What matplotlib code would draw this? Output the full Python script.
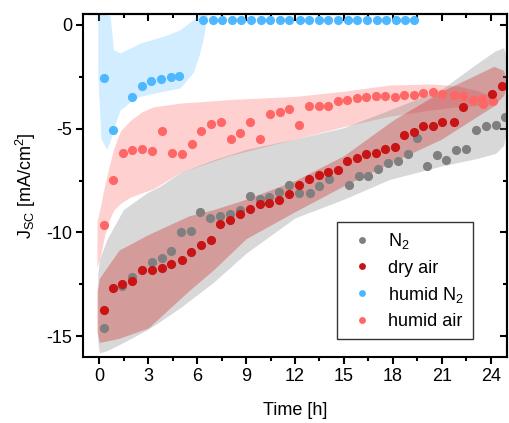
import numpy as np
import matplotlib
matplotlib.use("Agg")
import matplotlib.pyplot as plt
from matplotlib.ticker import MultipleLocator

plt.rcParams['font.family'] = ['Liberation Sans', 'DejaVu Sans']
plt.rcParams['axes.unicode_minus'] = False
plt.rcParams['mathtext.fontset'] = 'custom'
plt.rcParams['mathtext.rm'] = 'Liberation Sans'
plt.rcParams['mathtext.it'] = 'Liberation Sans'

# ---- measured points (time in h, Jsc in mA/cm2) ----
t_n2 = [0.25, 1.41, 2.02, 3.2, 3.81, 4.4, 5.0, 5.63, 6.2, 6.8, 7.41, 8.01, 8.61,
        9.23, 9.83, 10.42, 11.02, 11.63, 12.27, 12.89, 13.48, 14.08, 15.29, 15.9,
        16.5, 17.1, 17.71, 18.3, 18.9, 19.5, 20.08, 20.7, 21.28, 21.9, 22.51,
        23.1, 23.69, 24.3, 24.87]
j_n2 = [-14.6, -12.59, -12.16, -11.44, -11.23, -10.88, -9.99, -9.95, -9.0, -9.3,
        -9.19, -9.1, -8.92, -8.26, -8.4, -8.31, -8.04, -7.7, -8.08, -8.08, -7.78,
        -7.44, -7.7, -7.26, -7.26, -6.96, -6.66, -6.55, -6.24, -5.47, -6.8, -6.28,
        -6.5, -6.05, -5.98, -5.09, -4.88, -4.85, -4.46]

t_dry = [0.25, 0.82, 1.41, 2.02, 2.61, 3.2, 3.81, 4.4, 5.04, 5.63, 6.22, 6.83,
         7.41, 8.01, 8.61, 9.23, 9.83, 10.42, 11.02, 11.6, 12.25, 12.84, 13.45,
         14.02, 14.62, 15.19, 15.78, 16.35, 16.96, 17.54, 18.13, 18.7, 19.27,
         19.87, 20.47, 21.04, 21.73, 22.32, 24.1, 24.69]
j_dry = [-13.72, -12.67, -12.48, -12.32, -11.82, -11.8, -11.71, -11.5, -11.31,
         -10.92, -10.59, -10.35, -9.61, -9.42, -9.1, -8.86, -8.62, -8.58, -8.44,
         -8.16, -7.7, -7.44, -7.22, -7.08, -6.98, -6.55, -6.4, -6.21, -6.18, -5.97,
         -5.87, -5.33, -5.18, -4.86, -4.86, -4.68, -4.7, -3.96, -3.34, -2.94]

t_hn2 = [0.25, 0.82, 2.0, 2.59, 3.16, 3.77, 4.39, 4.9,
         6.36, 6.97, 7.55, 8.12, 8.71, 9.3, 9.89, 10.48, 11.07, 11.66, 12.28,
         12.85, 13.46, 14.05, 14.62, 15.23, 15.8, 16.42, 17.0, 17.58, 18.19,
         18.76, 19.31]
j_hn2 = [-2.57, -5.05, -3.5, -2.94, -2.7, -2.6, -2.53, -2.49,
         0.24, 0.25, 0.24, 0.24, 0.24, 0.24, 0.24, 0.24, 0.24, 0.24, 0.24,
         0.24, 0.24, 0.24, 0.24, 0.24, 0.24, 0.24, 0.24, 0.24, 0.24, 0.24, 0.24]

t_hair = [0.25, 0.82, 1.43, 2.02, 2.61, 3.22, 3.81, 4.43, 5.04, 5.65, 6.24, 6.85,
          7.43, 8.05, 8.65, 9.25, 9.83, 10.44, 11.05, 11.62, 12.23, 12.84, 13.44,
          14.03, 14.62, 15.19, 15.8, 16.37, 16.96, 17.54, 18.12, 18.7, 19.28,
          19.88, 20.47, 21.04, 21.75, 22.32, 22.93, 23.49, 23.55, 24.12]
j_hair = [-9.62, -7.46, -6.17, -6.05, -6.0, -6.1, -5.1, -6.17, -6.2, -5.73, -5.1,
          -4.76, -4.67, -5.48, -5.21, -4.7, -5.48, -4.32, -4.21, -4.07, -4.81,
          -3.93, -3.9, -3.9, -3.69, -3.61, -3.53, -3.5, -3.45, -3.42, -3.46, -3.37,
          -3.37, -3.29, -3.25, -3.32, -3.38, -3.42, -3.61, -3.56, -3.82, -3.65]

# ---- shaded bands (outline) ----
band_hn2_t = [-0.1, 0.1, 0.45, 0.66, 0.86, 1.27, 2.08, 2.49, 3.91, 4.94, 5.75, 6.1, 6.36, 6.6]
band_hn2_hi = [0.5, 0.5, 0.5, 0.4, -1.2, -1.36, -1.05, -0.88, -0.56, -0.24, 0.24, 0.5, 0.5, 0.5]
band_hn2_lo = [-2.5, -5.5, -6.0, -5.6, -5.0, -4.1, -3.6, -3.45, -3.2, -3.05, -2.3, -1.5, -0.7, 0.4]

band_hair_t = [-0.15, 0.1, 0.3, 0.6, 0.9, 1.3, 1.9, 2.6, 3.3, 5.0, 8.0, 12.0, 15.0,
               17.8, 20.4, 22.0, 23.1, 24.0, 24.4]
band_hair_hi = [-9.5, -8.6, -7.8, -6.8, -5.9, -5.1, -4.6, -4.2, -3.95, -3.77, -3.6,
                -3.45, -3.2, -2.9, -2.85, -2.95, -3.15, -3.4, -3.7]
band_hair_lo = [-11.7, -11.0, -10.2, -9.4, -8.9, -8.6, -8.3, -8.1, -7.9, -7.1, -6.3,
                -5.5, -4.9, -4.4, -4.1, -3.95, -3.9, -3.85, -3.75]

band_n2_t = [-0.1, 0.0, 0.45, 1.47, 2.9, 3.7, 5.0, 7.0, 9.0, 12.0, 15.0, 17.8, 21.0,
             23.1, 24.3, 24.8, 24.95]
band_n2_hi = [-12.0, -11.3, -10.35, -8.9, -8.1, -7.78, -7.1, -6.5, -6.0, -5.5, -4.95,
              -4.1, -3.1, -1.9, -1.25, -1.1, -1.5]
band_n2_lo = [-15.3, -15.8, -15.7, -15.3, -14.7, -14.3, -13.6, -12.4, -11.0, -9.3,
              -8.4, -7.45, -6.8, -6.45, -6.2, -5.8, -5.2]

band_dry_t = [-0.15, 0.0, 1.2, 3.0, 5.5, 7.0, 9.0, 12.0, 15.0, 18.0, 21.0, 23.0,
              24.2, 24.8, 24.95]
band_dry_hi = [-12.8, -12.2, -10.85, -10.1, -9.2, -8.9, -8.4, -7.5, -6.3, -4.6, -3.2,
               -2.45, -2.0, -2.2, -2.7]
band_dry_lo = [-14.8, -15.3, -15.1, -14.6, -12.8, -11.8, -10.3, -9.0, -7.75, -6.6,
               -5.5, -4.5, -3.9, -3.4, -3.0]

c_n2 = '#7f7f7f'
c_dry = '#c81414'
c_hn2 = '#4db8ff'
c_hair = '#ff6666'

fig = plt.figure(figsize=(5.1, 4.23), dpi=100)
ax = fig.add_axes([0.163, 0.156, 0.831, 0.81])

ms = 6.6
ax.fill_between(band_hn2_t, band_hn2_lo, band_hn2_hi, color=c_hn2, alpha=0.25, lw=0)
ax.plot(t_hn2, j_hn2, 'o', color=c_hn2, ms=ms, mew=0, label='humid N$_2$')
ax.fill_between(band_hair_t, band_hair_lo, band_hair_hi, color=c_hair, alpha=0.3, lw=0)
ax.plot(t_hair, j_hair, 'o', color=c_hair, ms=ms, mew=0, label='humid air')
ax.fill_between(band_n2_t, band_n2_lo, band_n2_hi, color='#808080', alpha=0.3, lw=0)
ax.plot(t_n2, j_n2, 'o', color=c_n2, ms=ms, mew=0, label='N$_2$')
ax.fill_between(band_dry_t, band_dry_lo, band_dry_hi, color='#cc1111', alpha=0.3, lw=0)
ax.plot(t_dry, j_dry, 'o', color=c_dry, ms=ms, mew=0, label='dry air')

ax.set_xlim(-1, 25)
ax.set_ylim(-16, 0.5)
ax.xaxis.set_major_locator(MultipleLocator(3))
ax.xaxis.set_minor_locator(MultipleLocator(1.5))
ax.yaxis.set_major_locator(MultipleLocator(5))
ax.yaxis.set_minor_locator(MultipleLocator(2.5))

for s in ax.spines.values():
    s.set_linewidth(1.5)
ax.tick_params(which='both', direction='out', width=1.5, labelsize=13,
               top=False, right=False)
ax.tick_params(which='major', length=5, pad=3)
ax.tick_params(which='minor', length=3)
# mirrored ticks pointing inwards on top / right
ax2 = ax.secondary_xaxis('top')
ax2.xaxis.set_major_locator(MultipleLocator(3))
ax2.xaxis.set_minor_locator(MultipleLocator(1.5))
ax2.tick_params(which='both', direction='in', width=1.5, labeltop=False)
ax2.tick_params(which='major', length=5)
ax2.tick_params(which='minor', length=3)
ax3 = ax.secondary_yaxis('right')
ax3.yaxis.set_major_locator(MultipleLocator(5))
ax3.yaxis.set_minor_locator(MultipleLocator(2.5))
ax3.tick_params(which='both', direction='in', width=1.5, labelright=False)
ax3.tick_params(which='major', length=5)
ax3.tick_params(which='minor', length=3)
ax2.spines['top'].set_linewidth(1.5)
ax3.spines['right'].set_linewidth(1.5)

ax.set_xlabel('Time [h]', fontsize=13, labelpad=12)
ax.set_ylabel('J$_{\\mathrm{SC}}$ [mA/cm$^2$]', fontsize=13, labelpad=6)

h, l = ax.get_legend_handles_labels()
order = [2, 3, 0, 1]
leg = ax.legend([h[i] for i in order], [l[i] for i in order], loc='lower right',
                bbox_to_anchor=(0.92, 0.053), fontsize=13, frameon=True,
                fancybox=False, edgecolor='black', markerscale=0.75,
                handlelength=1.8, handletextpad=0.55, labelspacing=0.45,
                borderpad=0.5, borderaxespad=0)
leg.get_frame().set_linewidth(1.0)

fig.savefig('out.png', dpi=100)
